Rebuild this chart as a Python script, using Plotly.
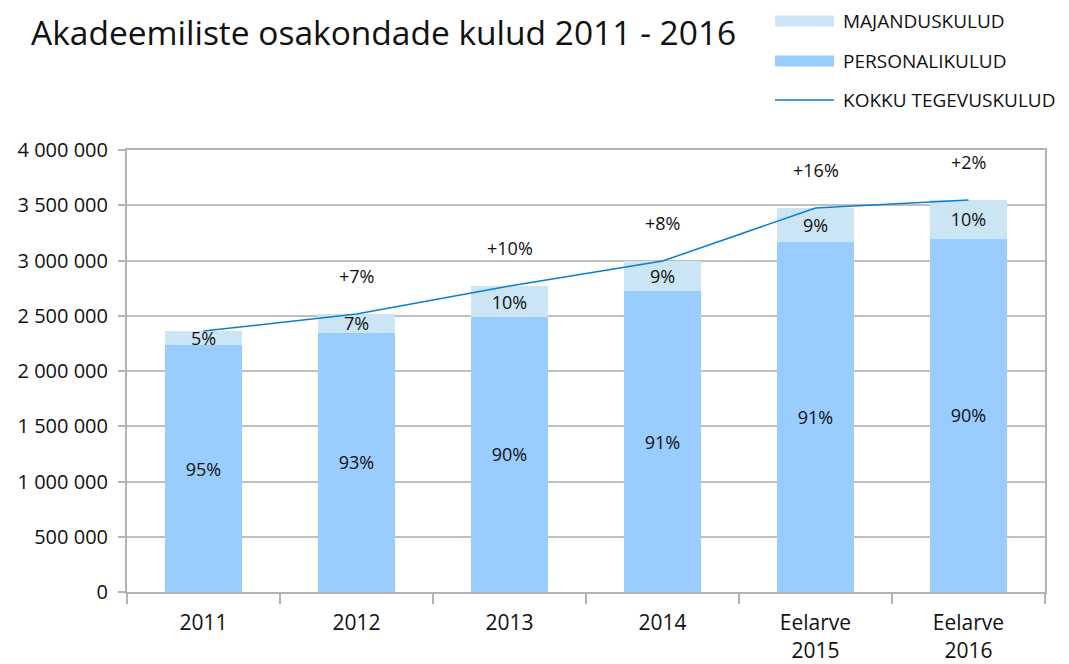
import plotly.graph_objects as go

categories = ["2011", "2012", "2013", "2014", "Eelarve<br>2015", "Eelarve<br>2016"]
personal = [2235000, 2344000, 2489000, 2724000, 3167000, 3195000]
majandus = [127000, 172000, 280000, 271000, 308000, 353000]
total = [p + m for p, m in zip(personal, majandus)]
personal_pct = ["95%", "93%", "90%", "91%", "91%", "90%"]
majandus_pct = ["5%", "7%", "10%", "9%", "9%", "10%"]
growth = ["", "+7%", "+10%", "+8%", "+16%", "+2%"]
legend_names = ["MAJANDUSKULUD", "PERSONALIKULUD", "KOKKU TEGEVUSKULUD"]

FONT = "Open Sans"
C_PERS = "#99CCFF"
C_MAJ = "#CCE5F5"
C_LINE = "#0A7DD1"
TXT = "#111111"

# page is offset by the browser's 8px body margin
OFF = 8
W, H = 1069 - OFF, 664 - OFF
L, R, T, B = 127 - OFF, 24, 150 - OFF, 72
PW, PH = W - L - R, H - T - B

fig = go.Figure()
fig.add_trace(go.Bar(
    x=categories, y=personal, name=legend_names[1],
    marker=dict(color=C_PERS, line=dict(width=0)),
    text=personal_pct, textposition="inside", insidetextanchor="middle",
    textangle=0, constraintext="none",
    textfont=dict(color=TXT, size=18, family=FONT),
    width=0.5, showlegend=False,
))
fig.add_trace(go.Bar(
    x=categories, y=majandus, name=legend_names[0],
    marker=dict(color=C_MAJ, line=dict(width=0)),
    text=majandus_pct, textposition="inside", insidetextanchor="middle",
    textangle=0, constraintext="none",
    textfont=dict(color=TXT, size=18, family=FONT),
    width=0.5, showlegend=False,
))
fig.add_trace(go.Scatter(
    x=categories, y=total, name=legend_names[2], mode="lines",
    line=dict(color=C_LINE, width=1.5), showlegend=False,
))

for i, (t, g) in enumerate(zip(total, growth)):
    if g:
        fig.add_annotation(x=i, y=t, text=g, showarrow=False, yshift=38,
                           font=dict(size=18, color=TXT, family=FONT))


def px(xp):
    return (xp - OFF - L) / PW


def py(yp):
    return (H - B - (yp - OFF)) / PH


legend_y = [21, 61, 100]
for i, (name, yy) in enumerate(zip(legend_names, legend_y)):
    if i < 2:
        fig.add_shape(type="rect", xref="paper", yref="paper",
                      x0=px(775), x1=px(834), y0=py(yy + 5.5), y1=py(yy - 5.5),
                      fillcolor=[C_MAJ, C_PERS][i], line=dict(width=0))
    else:
        fig.add_shape(type="line", xref="paper", yref="paper",
                      x0=px(775), x1=px(834), y0=py(yy), y1=py(yy),
                      line=dict(color=C_LINE, width=1.5))
    fig.add_annotation(xref="paper", yref="paper", x=px(841), y=py(yy), text=name,
                       showarrow=False, xanchor="left", yanchor="middle",
                       font=dict(size=19, family=FONT, color=TXT))

fig.update_layout(
    width=W, height=H,
    barmode="stack",
    plot_bgcolor="white", paper_bgcolor="white",
    margin=dict(l=L, r=R, t=T, b=B, autoexpand=False),
    separators=", ",
    font=dict(family=FONT, size=18, color=TXT),
    title=dict(text="Akadeemiliste osakondade kulud 2011 - 2016", x=(31 - OFF) / W, xref="container",
               xanchor="left", y=1 - (33 - OFF) / H, yref="container", yanchor="middle",
               font=dict(size=33.5, family=FONT, color=TXT)),
    showlegend=False,
)
fig.update_xaxes(
    type="category", automargin=False, range=[-0.5, 5.5],
    showline=True, linecolor="#B3B3B3", linewidth=2, mirror=True,
    ticks="outside", tickson="boundaries", ticklen=10, tickcolor="#B3B3B3", tickwidth=2,
    tickfont=dict(size=21, family=FONT, color=TXT), tickangle=0,
    ticklabelstandoff=11,
    showgrid=False,
)
fig.update_yaxes(
    range=[0, 4000000], dtick=500000, tickformat=",d", automargin=False,
    showline=True, linecolor="#B3B3B3", linewidth=2, mirror=True,
    ticks="outside", ticklen=7, tickcolor="#B3B3B3", tickwidth=2,
    gridcolor="#BFBFBF", gridwidth=2,
    tickfont=dict(size=20, family=FONT, color=TXT),
    ticklabelstandoff=6,
    zeroline=False,
)

fig.write_html("out.html")
